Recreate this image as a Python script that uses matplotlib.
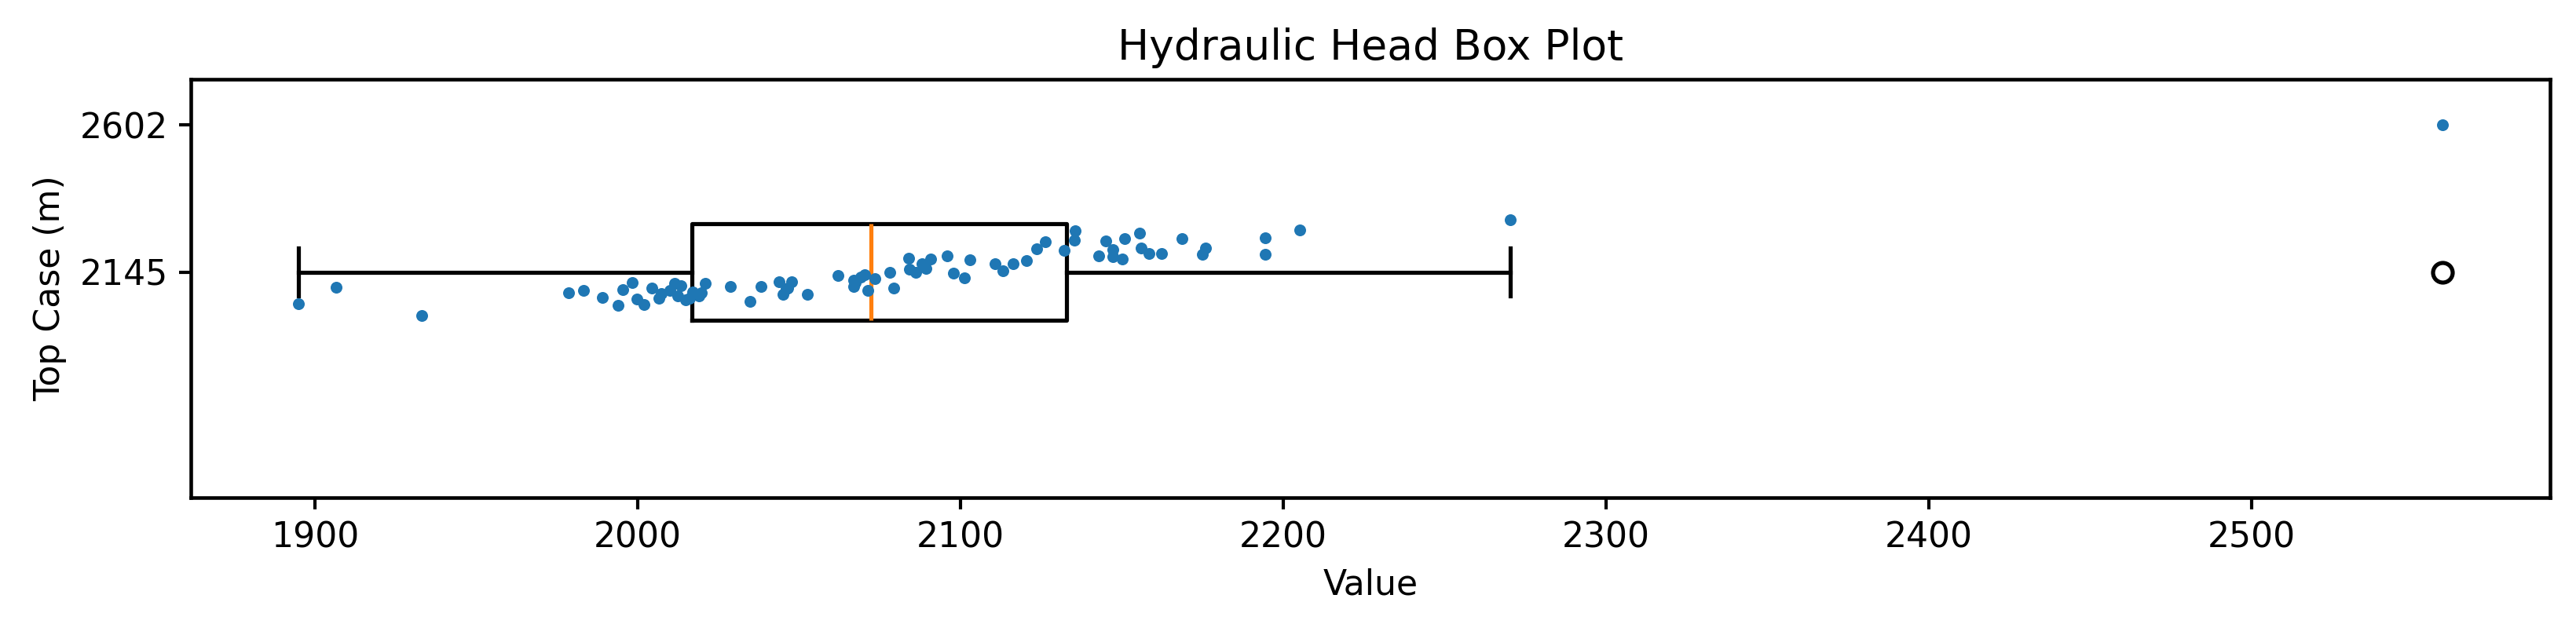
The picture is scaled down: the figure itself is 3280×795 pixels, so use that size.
import matplotlib
matplotlib.use('Agg')
import matplotlib.pyplot as plt
import numpy as np

# hydraulic head values (m) and the top case elevation of each well
head = [1894.8, 1906.7, 1933.1, 1978.6, 1983.2, 1989.0, 1993.9, 1995.5, 1998.4, 1999.7,
        2001.9, 2004.3, 2006.6, 2007.3, 2010.0, 2011.4, 2012.4, 2013.3, 2014.9, 2016.0,
        2017.1, 2019.0, 2019.8, 2020.9, 2028.8, 2034.8, 2038.3, 2043.9, 2045.0, 2046.0,
        2046.5, 2047.8, 2052.6, 2062.0, 2066.9, 2066.9, 2067.5, 2069.0, 2070.2, 2071.3,
        2073.4, 2078.1, 2079.4, 2084.0, 2084.3, 2086.1, 2088.1, 2089.2, 2090.8, 2095.9,
        2097.9, 2101.3, 2103.0, 2110.7, 2113.1, 2116.4, 2120.4, 2123.7, 2126.2, 2132.1,
        2135.3, 2135.6, 2142.7, 2145.1, 2147.3, 2147.3, 2150.0, 2150.9, 2155.5, 2156.0,
        2158.3, 2162.3, 2168.5, 2175.0, 2176.0, 2194.5, 2194.5, 2205.1, 2270.2, 2559.1]
top_case = [2046, 2098, 2009, 2080, 2087, 2067, 2042, 2090, 2113, 2062,
             2044, 2095, 2064, 2079, 2088, 2110, 2072, 2104, 2060, 2064,
             2084, 2072, 2080, 2110, 2100, 2054, 2100, 2114, 2076, 2093,
             2095, 2114, 2076, 2135, 2121, 2100, 2112, 2130, 2137, 2087,
             2125, 2145, 2095, 2187, 2153, 2145, 2170, 2157, 2186, 2196,
             2141, 2126, 2184, 2171, 2149, 2171, 2180, 2217, 2239, 2212,
             2243, 2273, 2196, 2241, 2214, 2194, 2186, 2249, 2265, 2220,
             2202, 2202, 2249, 2200, 2220, 2251, 2200, 2277, 2307, 2602]
box_position = 2145
yticks = [2145, 2602]

plt.rcParams['font.size'] = 10.6
plt.rcParams['axes.linewidth'] = 1.1
plt.rcParams['xtick.major.width'] = 1.0
plt.rcParams['ytick.major.width'] = 1.0

fig = plt.figure(figsize=(3280/300, 795/300), dpi=300)
ax = fig.add_axes([0.0741, 0.2023, 0.9157, 0.6707])

lw = 1.25
ax.boxplot(head, vert=False, positions=[box_position], widths=300,
           boxprops=dict(linewidth=lw), whiskerprops=dict(linewidth=lw),
           capprops=dict(linewidth=lw), medianprops=dict(linewidth=lw),
           flierprops=dict(markeredgewidth=lw))
ax.scatter(head, top_case, s=13, color='tab:blue', linewidths=0, zorder=3)

ax.set_ylim(1444.4, 2743.8)
ax.set_yticks(yticks)
ax.set_yticklabels([str(t) for t in yticks])
ax.set_title('Hydraulic Head Box Plot', fontsize=12.8)
ax.set_xlabel('Value')
ax.set_ylabel('Top Case (m)')

fig.savefig('out.png', dpi=300)
